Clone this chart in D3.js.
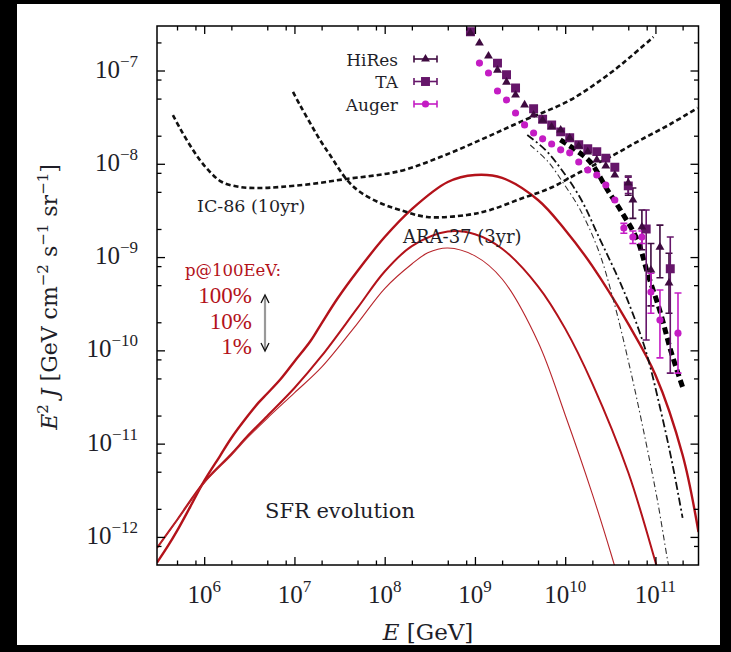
<!DOCTYPE html>
<html><head><meta charset="utf-8">
<script src="https://cdn.jsdelivr.net/npm/d3@7"></script>
<style>body{margin:0;background:#000}svg{display:block}</style>
</head><body><svg id="c" width="731" height="652"></svg>
<script>
// ---------- data ----------
const xDomain = [3e5, 3e11];
const yDomain = [5e-13, 3e-7];
const xMajorTicks = [1e6, 1e7, 1e8, 1e9, 1e10, 1e11];
const xMajorExp = ["6", "7", "8", "9", "10", "11"];
const xMinorTicks = [5e5, 8e5, 2e6, 5e6, 8e6, 2e7, 5e7, 8e7, 2e8, 5e8, 8e8, 2e9, 5e9, 8e9, 2e10, 5e10, 8e10, 2e11];
const yMajorTicks = [1e-12, 1e-11, 1e-10, 1e-9, 1e-8, 1e-7];
const yMajorExp = ["\u221212", "\u221211", "\u221210", "\u22129", "\u22128", "\u22127"];
const yMinorTicks = [8e-13, 2e-12, 5e-12, 8e-12, 2e-11, 5e-11, 8e-11, 2e-10, 5e-10, 8e-10, 2e-9, 5e-9, 8e-9, 2e-8, 5e-8, 8e-8, 2e-7];

// IceCube-86 (10 yr) sensitivity
const ic86E = [4.5e5, 5.37e5, 6.93e5, 8.95e5, 1.16e6, 1.57e6, 2.49e6, 4.15e6, 6.92e6, 1.49e7, 3.46e7, 1.48e8, 4.12e8, 1.15e9, 3.18e9, 1.14e10, 3.17e10, 5.28e10, 9.51e10];
const ic86J = [3.33e-8, 2.42e-8, 1.59e-8, 1.10e-8, 8.17e-9, 6.38e-9, 5.64e-9, 5.50e-9, 5.64e-9, 6.05e-9, 6.80e-9, 8.37e-9, 1.18e-8, 1.80e-8, 2.81e-8, 4.83e-8, 9.40e-8, 1.40e-7, 2.29e-7];
// ARA-37 (3 yr) sensitivity
const araE = [9.64e6, 1.15e7, 1.49e7, 1.92e7, 2.48e7, 3.83e7, 5.34e7, 8.9e7, 1.48e8, 2.96e8, 8.2e8, 1.48e9, 3.18e9, 6.85e9, 1.47e10, 3.43e10, 6.83e10, 1.47e11, 2.93e11];
const araJ = [5.89e-8, 4.27e-8, 2.74e-8, 1.80e-8, 1.24e-8, 6.70e-9, 4.99e-9, 3.80e-9, 3.20e-9, 2.69e-9, 2.83e-9, 3.20e-9, 4.20e-9, 5.50e-9, 8.17e-9, 1.24e-8, 1.80e-8, 2.67e-8, 3.97e-8];

// SFR neutrino fluxes, p@100EeV = 100%, 10%, 1%
const sfr100E = [3e5, 4e5, 5e5, 7e5, 1e6, 1.5e6, 2e6, 3e6, 4e6, 5e6, 7e6, 1e7, 1.5e7, 2e7, 3e7, 5e7, 1e8, 2e8, 5e8, 1e9, 2e9, 5e9, 1e10, 2e10, 5e10, 1e11, 2e11, 3e11];
const sfr100J = [5.3e-13, 8.1e-13, 1.16e-12, 2.1e-12, 3.98e-12, 7.4e-12, 1.15e-11, 1.95e-11, 2.75e-11, 3.45e-11, 4.9e-11, 7.6e-11, 1.25e-10, 1.95e-10, 3.6e-10, 7.1e-10, 1.64e-9, 3.27e-9, 6.38e-9, 7.58e-9, 7.05e-9, 4.09e-9, 1.95e-9, 8.0e-10, 1.92e-10, 5.45e-11, 7.55e-12, 1.13e-12];
const sfr10E = [3e5, 5e5, 1e6, 2e6, 3e6, 5e6, 1e7, 2e7, 5e7, 1e8, 2e8, 5e8, 1e9, 2e9, 5e9, 1e10, 2e10, 5e10, 1e11, 1.3e11];
const sfr10J = [7.6e-13, 1.52e-12, 3.88e-12, 7.75e-12, 1.2e-11, 1.98e-11, 3.95e-11, 8.7e-11, 2.85e-10, 7.0e-10, 1.31e-9, 1.88e-9, 1.76e-9, 1.23e-9, 4.86e-10, 1.71e-10, 4.4e-11, 4.9e-12, 5.4e-13, 2.2e-13];
const sfr1E = [3e5, 5e5, 1e6, 2e6, 3e6, 5e6, 1e7, 2e7, 5e7, 1e8, 2e8, 3e8, 5e8, 1e9, 2e9, 5e9, 1e10, 2e10, 3.25e10, 4e10];
const sfr1J = [7.6e-13, 1.5e-12, 3.78e-12, 7.5e-12, 1.15e-11, 1.87e-11, 3.5e-11, 6.6e-11, 1.95e-10, 4.6e-10, 8.43e-10, 1.11e-9, 1.25e-9, 1.03e-9, 5.82e-10, 1.23e-10, 2.03e-11, 2.88e-12, 6.4e-13, 3.2e-13];

// cosmic-ray model curves (black)
const crThickE = [8.84e9, 1.30e10, 1.90e10, 2.94e10, 4.09e10, 6.32e10, 8.17e10, 1.14e11, 1.47e11, 2.05e11];
const crThickJ = [1.80e-8, 1.41e-8, 1.045e-8, 5.24e-9, 3.20e-9, 1.52e-9, 6.75e-10, 2.51e-10, 1.01e-10, 3.76e-11];
const crMidE = [3.80e9, 6.03e9, 8.84e9, 1.47e10, 2.45e10, 3.60e10, 4.90e10, 7.76e10, 1.14e11, 1.55e11, 2.0e11];
const crMidJ = [2.04e-8, 1.41e-8, 9.0e-9, 4.30e-9, 1.52e-9, 6.92e-10, 3.47e-10, 1.01e-10, 2.30e-11, 5.9e-12, 1.60e-12];
const crThinE = [4.10e9, 6.50e9, 9.53e9, 1.47e10, 2.33e10, 3.42e10, 5.28e10, 7.76e10, 1.05e11, 1.36e11, 1.43e11];
const crThinJ = [1.59e-8, 1.045e-8, 6.22e-9, 3.20e-9, 1.19e-9, 3.47e-10, 6.17e-11, 1.09e-11, 2.49e-12, 5.7e-13, 4.4e-13];

// UHECR data
const augerE = [1.122e9, 1.413e9, 1.778e9, 2.239e9, 2.818e9, 3.548e9, 4.467e9, 5.623e9, 7.079e9, 8.913e9, 1.122e10, 1.413e10, 1.778e10, 2.239e10, 2.818e10, 3.548e10, 4.467e10, 5.623e10, 7.079e10, 8.913e10, 1.122e11, 1.778e11];
const augerJ = [1.20e-7, 9.4e-8, 6.03e-8, 4.83e-8, 3.50e-8, 2.61e-8, 2.14e-8, 1.85e-8, 1.63e-8, 1.41e-8, 1.31e-8, 1.045e-8, 8.57e-9, 7.58e-9, 5.92e-9, 4.09e-9, 2.05e-9, 1.64e-9, 1.64e-9, 4.22e-10, 2.11e-10, 1.53e-10];
const augerLo = [null, null, null, null, null, null, null, null, null, null, null, null, null, null, null, null, 1.8e-9, 1.4e-9, 1.4e-9, 2.5e-10, 8.3e-11, 5.7e-11];
const augerHi = [null, null, null, null, null, null, null, null, null, null, null, null, null, null, null, null, 2.3e-9, 1.9e-9, 1.9e-9, 6.7e-10, 4.43e-10, 4.12e-10];

const hiresE = [8.913e8, 1.122e9, 1.413e9, 1.778e9, 2.239e9, 2.818e9, 3.548e9, 4.467e9, 5.623e9, 7.079e9, 8.913e9, 1.122e10, 1.413e10, 1.778e10, 2.239e10, 2.818e10, 3.548e10, 5.0e10, 5.623e10, 7.079e10, 8.913e10, 1.122e11, 1.413e11];
const hiresJ = [2.52e-7, 1.97e-7, 1.43e-7, 1.01e-7, 7.5e-8, 5.46e-8, 4.27e-8, 3.33e-8, 2.94e-8, 2.48e-8, 2.30e-8, 1.89e-8, 1.55e-8, 1.34e-8, 1.10e-8, 9.47e-9, 7.58e-9, 6.22e-9, 4.09e-9, 2.10e-9, 7.26e-10, 1.28e-9, 5.27e-10];
const hiresLo = [null, null, null, null, null, null, null, null, null, null, null, null, null, null, null, null, null, 4.6e-9, 2.6e-9, 1.2e-9, 3.0e-10, 6.0e-10, 2.5e-10];
const hiresHi = [null, null, null, null, null, null, null, null, null, null, null, null, null, null, null, null, null, 7.4e-9, 5.5e-9, 3.2e-9, 1.4e-9, 2.2e-9, 1.1e-9];

const taE = [8.913e8, 1.778e9, 2.239e9, 2.818e9, 4.467e9, 5.623e9, 7.079e9, 8.913e9, 1.122e10, 1.413e10, 1.778e10, 2.239e10, 2.818e10, 3.548e10, 5.0e10, 7.9e10, 1.46e11];
const taJ = [2.6e-7, 1.2e-7, 9.0e-8, 6.5e-8, 3.9e-8, 3.0e-8, 2.6e-8, 2.2e-8, 1.9e-8, 1.6e-8, 1.45e-8, 1.35e-8, 1.15e-8, 9.2e-9, 5.8e-9, 2.0e-9, 7.5e-10];
const taLo = [null, null, null, null, null, null, null, null, null, null, null, null, null, null, 4.8e-9, 1.29e-10, 5.7e-11];
const taHi = [null, null, null, null, null, null, null, null, null, null, null, null, null, null, 7.2e-9, 3.2e-9, 1.64e-9];

const legendNames = ["HiRes", "TA", "Auger"];
const pLabels = ["100%", "10%", "1%"];

// ---------- drawing ----------
const W = 731, H = 652;
const L = 157, R = 698.5, T = 26, B = 565;
const svg = d3.select("#c");
svg.append("rect").attr("width", W).attr("height", H).attr("fill", "#000");
svg.append("rect").attr("x", 17).attr("y", 4).attr("width", 703).attr("height", 641).attr("fill", "#fff");

const x = d3.scaleLog().domain(xDomain).range([L, R]);
const y = d3.scaleLog().domain(yDomain).range([B, T]);

svg.append("clipPath").attr("id", "clip").append("rect")
  .attr("x", L).attr("y", T).attr("width", R - L).attr("height", B - T);
const plot = svg.append("g").attr("clip-path", "url(#clip)");

const RED = "#b3121a";
const numFont = "'Liberation Serif', serif";
const txtFont = "'DejaVu Serif', serif";
const TXT = "#1e1e28";

const line = d3.line().x(d => x(d[0])).y(d => y(d[1])).curve(d3.curveCatmullRom.alpha(0.5));
const zip = (a, b) => a.map((v, i) => [v, b[i]]);

function curve(E, J, stroke, width, dash) {
  plot.append("path").attr("d", line(zip(E, J))).attr("fill", "none")
    .attr("stroke", stroke).attr("stroke-width", width)
    .attr("stroke-dasharray", dash || null);
}

// SFR curves
curve(sfr100E, sfr100J, RED, 2.4);
curve(sfr10E, sfr10J, RED, 2.0);
curve(sfr1E, sfr1J, "#b8262c", 1.1);
// sensitivities
curve(ic86E, ic86J, "#111", 2.6, "5,3");
curve(araE, araJ, "#111", 2.6, "5,3");
// black model curves
curve(crThinE, crThinJ, "#333", 1.1, "6,3,1.5,3");
curve(crMidE, crMidJ, "#111", 1.8, "8,3,2,3");
curve(crThickE, crThickJ, "#000", 5, "7,4");

// data
const COL_H = "#3f0b40", COL_T = "#66166a", COL_A = "#c41cc4";
function errbars(E, lo, hi, col) {
  E.forEach((e, i) => {
    if (lo[i] == null) return;
    const xx = x(e), y1 = y(lo[i]), y2 = y(hi[i]);
    plot.append("line").attr("x1", xx).attr("x2", xx).attr("y1", y1).attr("y2", y2).attr("stroke", col).attr("stroke-width", 1.6);
    [y1, y2].forEach(yy => plot.append("line").attr("x1", xx - 3.5).attr("x2", xx + 3.5).attr("y1", yy).attr("y2", yy).attr("stroke", col).attr("stroke-width", 1.6));
  });
}
function markers(E, J, type, size, col) {
  plot.selectAll(null).data(zip(E, J)).enter().append("path")
    .attr("transform", d => `translate(${x(d[0])},${y(d[1])})`)
    .attr("d", d3.symbol().type(type).size(size)).attr("fill", col);
}
errbars(hiresE, hiresLo, hiresHi, COL_H);
errbars(taE, taLo, taHi, COL_T);
errbars(augerE, augerLo, augerHi, COL_A);
markers(taE, taJ, d3.symbolSquare, 80, COL_T);
markers(hiresE, hiresJ, d3.symbolTriangle, 34, COL_H);
markers(augerE, augerJ, d3.symbolCircle, 40, COL_A);

// axes (ticks inward)
function ax(gen, tr, vals, size) {
  svg.append("g").attr("transform", tr)
    .call(gen.tickValues(vals).tickSize(-size).tickSizeOuter(0).tickFormat(""))
    .call(g => g.select(".domain").remove())
    .call(g => g.selectAll("line").attr("stroke", "#000").attr("stroke-width", 1.3));
}
ax(d3.axisBottom(x), `translate(0,${B})`, xMajorTicks, 8);
ax(d3.axisBottom(x), `translate(0,${B})`, xMinorTicks, 4.5);
ax(d3.axisTop(x), `translate(0,${T})`, xMajorTicks, 8);
ax(d3.axisTop(x), `translate(0,${T})`, xMinorTicks, 4.5);
ax(d3.axisLeft(y), `translate(${L},0)`, yMajorTicks, 8);
ax(d3.axisLeft(y), `translate(${L},0)`, yMinorTicks, 4.5);
ax(d3.axisRight(y), `translate(${R},0)`, yMajorTicks, 8);
ax(d3.axisRight(y), `translate(${R},0)`, yMinorTicks, 4.5);
svg.append("rect").attr("x", L).attr("y", T).attr("width", R - L).attr("height", B - T)
  .attr("fill", "none").attr("stroke", "#000").attr("stroke-width", 1.5);

// tick labels
xMajorTicks.forEach((v, i) => {
  const t = svg.append("text").attr("x", x(v)).attr("y", 603).attr("text-anchor", "middle")
    .attr("font-family", numFont).attr("font-size", 25).attr("fill", TXT);
  t.append("tspan").text("10");
  t.append("tspan").attr("dy", -11).attr("font-size", 17).text(xMajorExp[i]);
});
yMajorTicks.forEach((v, i) => {
  const t = svg.append("text").attr("x", 138).attr("y", y(v) + 7).attr("text-anchor", "end")
    .attr("font-family", numFont).attr("font-size", 25).attr("fill", TXT);
  t.append("tspan").text("10");
  t.append("tspan").attr("dy", -11).attr("font-size", 17).text(yMajorExp[i]);
});

// axis titles
const xt = svg.append("text").attr("x", 428).attr("y", 640).attr("text-anchor", "middle")
  .attr("font-family", txtFont).attr("font-size", 23).attr("fill", TXT);
xt.append("tspan").attr("font-style", "italic").text("E");
xt.append("tspan").text(" [GeV]");

const yt = svg.append("text").attr("transform", "translate(57,297) rotate(-90)").attr("text-anchor", "middle")
  .attr("font-family", txtFont).attr("font-size", 22).attr("fill", TXT);
yt.append("tspan").attr("font-style", "italic").text("E");
yt.append("tspan").attr("dy", -9).attr("font-size", 15).text("2");
yt.append("tspan").attr("dy", 9).attr("font-style", "italic").text(" J");
yt.append("tspan").text(" [GeV cm");
yt.append("tspan").attr("dy", -9).attr("font-size", 15).text("\u22122");
yt.append("tspan").attr("dy", 9).text(" s");
yt.append("tspan").attr("dy", -9).attr("font-size", 15).text("\u22121");
yt.append("tspan").attr("dy", 9).text(" sr");
yt.append("tspan").attr("dy", -9).attr("font-size", 15).text("\u22121");
yt.append("tspan").attr("dy", 9).text("]");

// annotations
function label(txt, xx, yy, size, col, anchor, fam) {
  svg.append("text").attr("x", xx).attr("y", yy).attr("font-family", fam || txtFont)
    .attr("font-size", size).attr("fill", col).attr("text-anchor", anchor || "start").text(txt);
}
label("IC-86 (10yr)", 197, 212, 17.5, TXT);
label("ARA-37 (3yr)", 403, 243, 18, TXT);
label("SFR evolution", 265, 518, 21, TXT);
label("p@100EeV:", 185, 276, 16.5, RED);
pLabels.forEach((p, i) => label(p, 252, 303 + i * 25.5, 23, RED, "end", numFont));

// double arrow
const ag = svg.append("g");
ag.append("line").attr("x1", 265).attr("x2", 265).attr("y1", 297).attr("y2", 350).attr("stroke", "#999").attr("stroke-width", 2.2);
ag.append("path").attr("d", "M261,303 L265,295 L269,303").attr("fill", "none").attr("stroke", "#111").attr("stroke-width", 1.3);
ag.append("path").attr("d", "M261,343 L265,351 L269,343").attr("fill", "none").attr("stroke", "#111").attr("stroke-width", 1.3);

// legend
const legCols = [COL_H, COL_T, COL_A];
const legTypes = [d3.symbolTriangle, d3.symbolSquare, d3.symbolCircle];
const legSizes = [34, 80, 40];
legendNames.forEach((n, i) => {
  const yy = 59 + i * 22.5;
  label(n, 398, yy + 6.5, 17, TXT, "end");
  const g = svg.append("g").attr("stroke", legCols[i]).attr("stroke-width", 1.6);
  g.append("line").attr("x1", 414).attr("x2", 437).attr("y1", yy).attr("y2", yy);
  g.append("line").attr("x1", 414).attr("x2", 414).attr("y1", yy - 3.5).attr("y2", yy + 3.5);
  g.append("line").attr("x1", 437).attr("x2", 437).attr("y1", yy - 3.5).attr("y2", yy + 3.5);
  svg.append("path").attr("transform", `translate(425.5,${yy})`).attr("d", d3.symbol().type(legTypes[i]).size(legSizes[i])).attr("fill", legCols[i]);
});
</script></body></html>
